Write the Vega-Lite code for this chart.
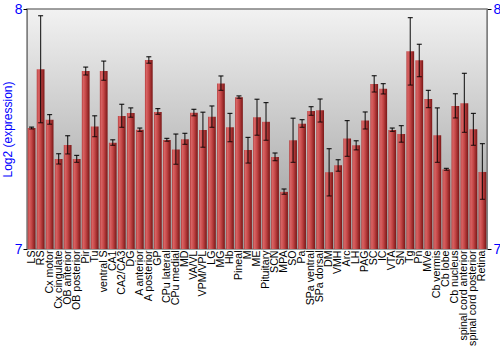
{
  "$schema": "https://vega.github.io/schema/vega-lite/v6.json",
  "width": 460,
  "height": 240,
  "autosize": {"type": "none"},
  "padding": {"left": 27, "top": 9, "right": 13, "bottom": 101},
  "config": {
    "font": "Liberation Sans",
    "view": {
      "stroke": "#808080",
      "strokeWidth": 1.5,
      "fill": {"gradient": "linear", "x1": 0, "y1": 0, "x2": 0, "y2": 1, "stops": [{"offset": 0, "color": "#f2f2f2"}, {"offset": 1, "color": "#9a9a9a"}]}
    }
  },
  "data": {
    "values": [
      {"region": "LS", "value": 7.504, "lo": 7.500, "hi": 7.508},
      {"region": "RS", "value": 7.749, "lo": 7.526, "hi": 7.972},
      {"region": "Cx motor", "value": 7.539, "lo": 7.520, "hi": 7.560},
      {"region": "Cx cingulate", "value": 7.375, "lo": 7.354, "hi": 7.397},
      {"region": "OB anterior", "value": 7.433, "lo": 7.396, "hi": 7.472},
      {"region": "OB posterior", "value": 7.375, "lo": 7.361, "hi": 7.390},
      {"region": "Pir", "value": 7.742, "lo": 7.725, "hi": 7.758},
      {"region": "Tu", "value": 7.510, "lo": 7.468, "hi": 7.555},
      {"region": "ventral S", "value": 7.742, "lo": 7.703, "hi": 7.783},
      {"region": "CA1", "value": 7.443, "lo": 7.432, "hi": 7.455},
      {"region": "CA2/CA3", "value": 7.554, "lo": 7.507, "hi": 7.603},
      {"region": "DG", "value": 7.567, "lo": 7.549, "hi": 7.588},
      {"region": "A anterior", "value": 7.497, "lo": 7.490, "hi": 7.504},
      {"region": "A posterior", "value": 7.788, "lo": 7.774, "hi": 7.801},
      {"region": "GP", "value": 7.571, "lo": 7.561, "hi": 7.585},
      {"region": "CPu lateral", "value": 7.454, "lo": 7.449, "hi": 7.461},
      {"region": "CPu medial", "value": 7.415, "lo": 7.353, "hi": 7.479},
      {"region": "MD", "value": 7.457, "lo": 7.436, "hi": 7.482},
      {"region": "VA/VL", "value": 7.568, "lo": 7.555, "hi": 7.582},
      {"region": "VPM/VPL", "value": 7.496, "lo": 7.424, "hi": 7.570},
      {"region": "LG", "value": 7.551, "lo": 7.507, "hi": 7.596},
      {"region": "MG", "value": 7.690, "lo": 7.661, "hi": 7.721},
      {"region": "Hb", "value": 7.507, "lo": 7.447, "hi": 7.565},
      {"region": "Pineal", "value": 7.632, "lo": 7.628, "hi": 7.638},
      {"region": "M", "value": 7.413, "lo": 7.358, "hi": 7.465},
      {"region": "ME", "value": 7.549, "lo": 7.474, "hi": 7.624},
      {"region": "Pituitary", "value": 7.530, "lo": 7.453, "hi": 7.610},
      {"region": "SCN", "value": 7.383, "lo": 7.368, "hi": 7.400},
      {"region": "MPA", "value": 7.238, "lo": 7.228, "hi": 7.250},
      {"region": "SO", "value": 7.453, "lo": 7.361, "hi": 7.545},
      {"region": "Pa", "value": 7.522, "lo": 7.507, "hi": 7.539},
      {"region": "SPa ventral", "value": 7.575, "lo": 7.557, "hi": 7.593},
      {"region": "SPa dorsal", "value": 7.578, "lo": 7.529, "hi": 7.625},
      {"region": "DM", "value": 7.320, "lo": 7.221, "hi": 7.418},
      {"region": "VMH", "value": 7.349, "lo": 7.324, "hi": 7.372},
      {"region": "Arc", "value": 7.460, "lo": 7.386, "hi": 7.535},
      {"region": "LH", "value": 7.432, "lo": 7.413, "hi": 7.451},
      {"region": "PAG", "value": 7.535, "lo": 7.500, "hi": 7.571},
      {"region": "SC", "value": 7.688, "lo": 7.654, "hi": 7.722},
      {"region": "IC", "value": 7.668, "lo": 7.646, "hi": 7.689},
      {"region": "VTA", "value": 7.496, "lo": 7.490, "hi": 7.504},
      {"region": "SN", "value": 7.479, "lo": 7.445, "hi": 7.514},
      {"region": "Tg", "value": 7.824, "lo": 7.683, "hi": 7.964},
      {"region": "Pn", "value": 7.786, "lo": 7.718, "hi": 7.853},
      {"region": "MVe", "value": 7.625, "lo": 7.589, "hi": 7.661},
      {"region": "Cb vermis", "value": 7.474, "lo": 7.361, "hi": 7.588},
      {"region": "Cb lobe", "value": 7.332, "lo": 7.328, "hi": 7.336},
      {"region": "Cb nucleus", "value": 7.596, "lo": 7.546, "hi": 7.647},
      {"region": "spinal cord anterior", "value": 7.607, "lo": 7.486, "hi": 7.732},
      {"region": "spinal cord posterior", "value": 7.499, "lo": 7.432, "hi": 7.565},
      {"region": "Retina", "value": 7.321, "lo": 7.207, "hi": 7.439}
    ]
  },
  "encoding": {
    "x": {
      "field": "region",
      "type": "nominal",
      "sort": null,
      "scale": {"paddingInner": 0.14, "paddingOuter": 0.08},
      "axis": {
        "title": null,
        "labelAngle": -90,
        "labelFontSize": 10.6,
        "labelColor": "#000000",
        "labelPadding": 1,
        "ticks": false,
        "domain": false
      }
    }
  },
  "layer": [
    {
      "mark": {
        "type": "bar",
        "color": {"gradient": "linear", "x1": 0, "y1": 0, "x2": 1, "y2": 0, "stops": [{"offset": 0, "color": "#b33a3a"}, {"offset": 0.18, "color": "#d86464"}, {"offset": 0.5, "color": "#c44646"}, {"offset": 1, "color": "#7a1616"}]}
      },
      "encoding": {
        "y": {
          "field": "value",
          "type": "quantitative",
          "scale": {"domain": [7, 8], "nice": false, "zero": false},
          "axis": {
            "title": "Log2 (expression)",
            "titleColor": "#0000ff",
            "titleFontSize": 12,
            "titleFontWeight": "normal",
            "titlePadding": 0,
            "values": [7, 8],
            "format": "d",
            "labelColor": "#0000ff",
            "labelFontSize": 14,
            "labelPadding": 1,
            "tickColor": "#000000",
            "tickSize": 4,
            "domainColor": "#808080",
            "grid": false
          }
        },
        "y2": {"datum": 7}
      }
    },
    {
      "mark": {"type": "rule", "color": "#000000", "opacity": 0.8, "strokeWidth": 1.2},
      "encoding": {
        "y": {
          "field": "lo",
          "type": "quantitative",
          "axis": {
            "orient": "right",
            "title": null,
            "values": [7, 8],
            "format": "d",
            "labelColor": "#0000ff",
            "labelFontSize": 14,
            "labelPadding": 2,
            "tickColor": "#000000",
            "tickSize": 4,
            "domainColor": "#808080",
            "grid": false
          }
        },
        "y2": {"field": "hi"}
      }
    },
    {
      "mark": {"type": "tick", "color": "#000000", "size": 5, "thickness": 1.2, "opacity": 0.85},
      "encoding": {"y": {"field": "hi", "type": "quantitative", "axis": null}}
    },
    {
      "mark": {"type": "tick", "color": "#000000", "size": 5, "thickness": 1.2},
      "encoding": {"y": {"field": "lo", "type": "quantitative", "axis": null}}
    }
  ],
  "resolve": {"axis": {"y": "independent"}}
}
